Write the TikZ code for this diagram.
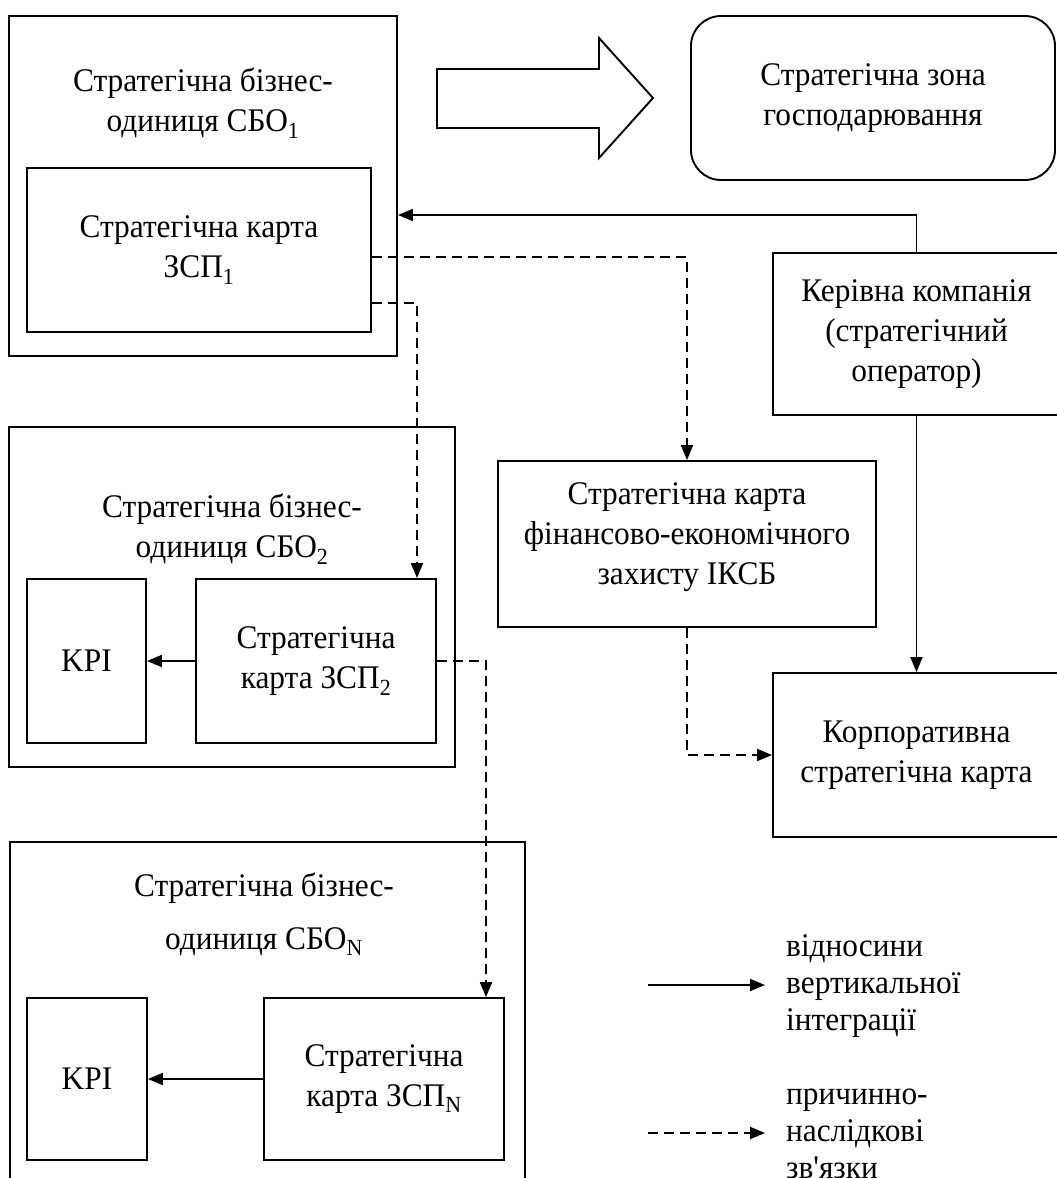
\documentclass[tikz,border=0pt]{standalone}
\usepackage{fontspec}
\newfontfamily\ukserif{Liberation Serif}[FakeStretch=0.95]
\usetikzlibrary{arrows.meta}
\tikzset{
  blk/.style={draw, line width=1.9pt, inner sep=0pt},
  txt/.style={align=center, inner sep=0pt, font=\ukserif\fontsize{33}{40}\selectfont},
  legtxt/.style={align=left, anchor=west, inner sep=0pt, font=\ukserif\fontsize{33}{37}\selectfont},
  vert/.style={line width=1.9pt, -{Triangle[length=15pt,width=12pt]}},
  caus/.style={vert, dash pattern=on 10pt off 6pt},
}
\begin{document}
\begin{tikzpicture}[x=1pt,y=-1pt]
  \clip (0,0) rectangle (1057,1178);
  % business unit 1
  \node[blk, minimum width=388pt, minimum height=340pt] (sbo1) at (203,186) {};
  \node[txt] (sbo1t) at (203,103) {Стратегічна бізнес-\\одиниця СБО\textsubscript{1}};
  \node[blk, txt, minimum width=344pt, minimum height=164pt] (zsp1) at (199,250) {Стратегічна карта\\ЗСП\textsubscript{1}};
  % big arrow to the zone
  \draw[line width=1.9pt] (437,69) -- (599,69) -- (599,38) -- (653,98) -- (599,158) -- (599,128) -- (437,128) -- cycle;
  \node[blk, txt, rounded corners=30pt, minimum width=364pt, minimum height=164pt] (zone) at (873,98) {Стратегічна зона\\господарювання};
  % managing company
  \node[blk, txt, minimum width=287pt, minimum height=162pt] (kom) at (916.5,334) {Керівна компанія\\(стратегічний\\оператор)};
  % business unit 2
  \node[blk, minimum width=446pt, minimum height=340pt] (sbo2) at (232,597) {};
  \node[txt] (sbo2t) at (232,529) {Стратегічна бізнес-\\одиниця СБО\textsubscript{2}};
  \node[blk, txt, minimum width=119pt, minimum height=164pt] (kpi2) at (86.5,661) {KPI};
  \node[blk, txt, minimum width=240pt, minimum height=164pt] (zsp2) at (316,661) {Стратегічна\\карта ЗСП\textsubscript{2}};
  % financial map and corporate map
  \node[blk, minimum width=378pt, minimum height=166pt] (sk) at (687,544) {};
  \node[txt] (skt) at (687,537) {Стратегічна карта\\фінансово-економічного\\захисту ІКСБ};
  \node[blk, txt, minimum width=287pt, minimum height=164pt] (korp) at (916.5,755) {Корпоративна\\стратегічна карта};
  % business unit N
  \node[blk, minimum width=515pt, minimum height=358pt] (sbon) at (267.5,1021) {};
  \node[txt] (sbont) at (264,914) {Стратегічна бізнес-\\[13pt]одиниця СБО\textsubscript{N}};
  \node[blk, txt, minimum width=120pt, minimum height=162pt] (kpin) at (87,1079) {KPI};
  \node[blk, txt, minimum width=240pt, minimum height=162pt] (zspn) at (384,1079) {Стратегічна\\карта ЗСП\textsubscript{N}};
  % vertical integration
  \draw[vert] (kom.north) |- (sbo1.east |- 0,215);
  \draw[vert] (kom.south) -- (korp.north);
  \draw[vert] (zsp2.west) -- (kpi2.east);
  \draw[vert] (zspn.west) -- (kpin.east);
  % cause and effect
  \draw[caus] (zsp1.east |- 0,257) -| (sk.north);
  \draw[caus] (zsp1.east |- 0,303) -| (zsp2.north -| 417,0);
  \draw[caus] (zsp2.east) -| (zspn.north -| 486,0);
  \draw[caus] (sk.south) |- (korp.west);
  % legend
  \node[legtxt] (leg1) at (786,986) {відносини\\вертикальної\\інтеграції};
  \node[legtxt] (leg2) at (786,1134) {причинно-\\наслідкові\\зв'язки};
  \coordinate (l1a) at (648,985);
  \coordinate (l1b) at (765,985);
  \coordinate (l2a) at (648,1133);
  \coordinate (l2b) at (765,1133);
  \draw[vert] (l1a) -- (l1b);
  \draw[caus] (l2a) -- (l2b);
\end{tikzpicture}
\end{document}
